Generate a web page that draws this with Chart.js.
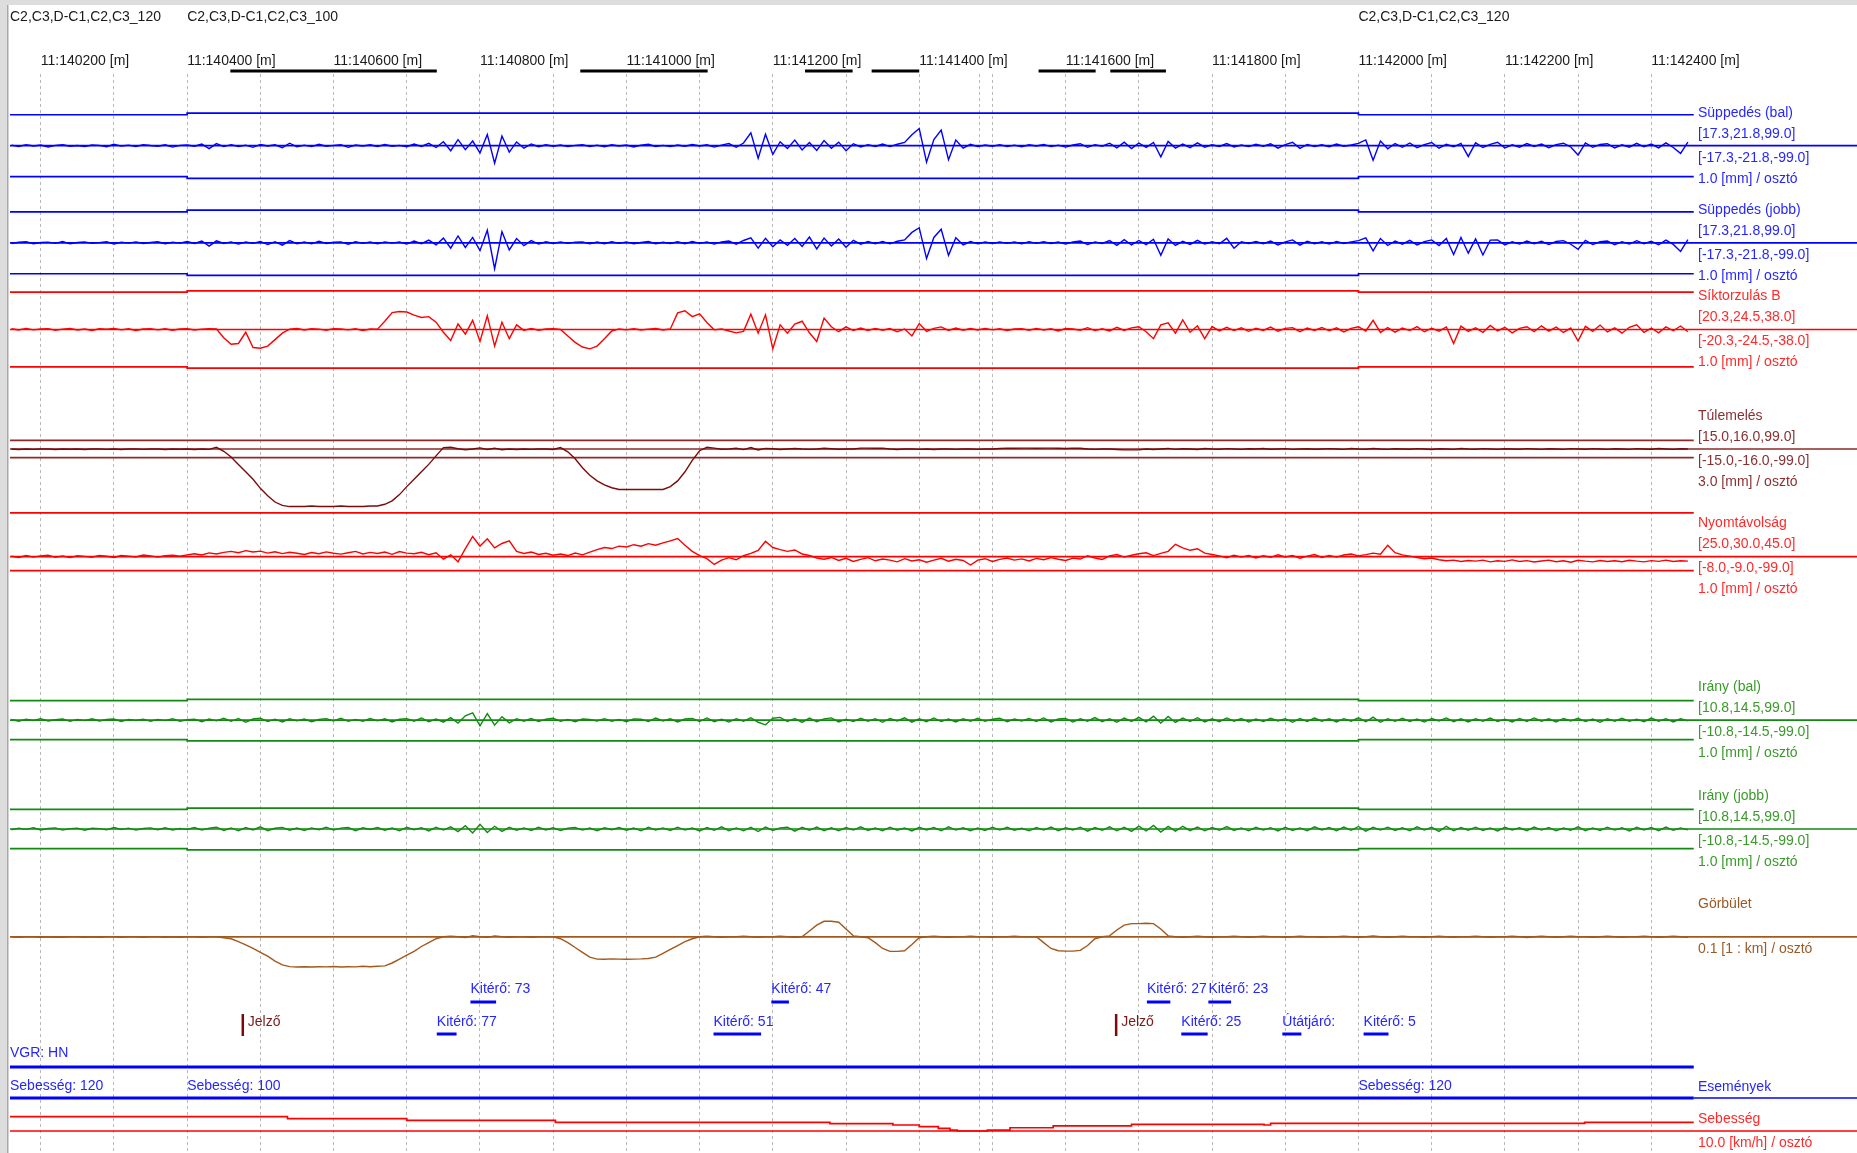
<!DOCTYPE html>
<html>
<head>
<meta charset="utf-8">
<script src="https://cdn.jsdelivr.net/npm/chart.js@4.4.1/dist/chart.umd.min.js"></script>
<style>
  html, body { margin: 0; padding: 0; background: #fff; }
  canvas { display: block; }
</style>
</head>
<body>
<canvas id="strip" width="1857" height="1153"></canvas>
<script>
// Track geometry strip chart, section 11:140158 - 11:142458 [m]
// Traces every 10 m.

const KM_START = 140160
const KM_STEP  = 10

const supBal = [
   0.3, -0.4,  0.6, -0.2,  0.4, -0.7,  0.2,  0.5, -0.3,  0.1,
  -0.5,  0.4,  0.2, -0.6,  0.8, -0.2,  0.3, -0.4,  0.6,  0.1,
  -0.3,  0.5, -0.8,  0.2,  0.4, -0.3,  0.9, -1.6,  1.2, -0.5,
   0.6, -0.4,  0.3, -0.9,  0.7, -0.2,  0.5, -1.1,  1.4, -0.6,
   0.3, -0.5,  0.8, -0.3,  0.2,  0.6, -0.9,  0.4, -0.2,  0.5,
  -0.4,  0.7, -0.3,  0.2, -0.6,  0.9, -0.4,  1.3, -1.0,  2.2,
  -2.8,  3.4, -2.2,  2.6, -4.0,  6.2, -9.8,  5.4, -3.6,  2.1,
  -1.4,  1.0, -0.6,  0.5, -0.3,  0.4, -0.5,  0.2,  0.6, -0.4,
   0.3, -0.6,  0.5, -0.2,  0.4, -0.7,  0.3,  0.8, -0.4,  0.2,
  -0.5,  0.4, -0.3,  0.7, -0.2,  0.5, -0.8,  0.3,  1.2, -0.9,
   1.5,  7.2, -7.0,  6.4, -4.8,  2.2, -1.6,  3.1, -2.4,  1.8,
  -2.6,  2.9, -1.4,  2.0, -2.8,  1.1, -0.7,  0.6, -0.4,  0.9,
  -0.5,  0.8,  1.8,  6.1,  9.6, -9.2,  3.4,  8.7, -7.8,  3.2,
  -1.4,  0.8, -0.5,  0.4, -0.3,  0.6, -0.4,  0.3, -0.6,  0.5,
  -0.2,  0.7, -0.5,  0.3, -0.8,  0.4,  1.1, -0.9,  0.6, -0.3,
   1.4, -1.2,  2.0, -1.6,  1.5, -0.9,  1.8, -6.2,  2.4, -1.3,
   0.9, -1.1,  1.6, -0.8,  0.5, -0.4,  1.2, -0.7,  0.4, -0.5,
   0.8, -0.3,  1.1, -1.4,  0.6,  1.9, -1.5,  0.7, -0.4,  0.5,
  -0.6,  0.9, -0.3,  0.4,  1.3,  3.2, -8.1,  2.6, -1.7,  1.2,
  -0.9,  1.5, -1.1,  0.6,  1.8, -1.4,  0.8, -0.6,  1.3, -6.0,
   1.6, -1.0,  0.7,  1.9, -1.3,  0.5, -0.8,  1.2, -0.4,  0.9,
  -1.1,  0.6,  1.4, -0.7, -5.2,  1.5, -0.9,  0.7,  1.1, -1.2,
   0.5, -0.8,  1.3, -0.6,  0.9, -1.2,  1.6, -1.0, -4.3,  2.0
]

const supJobb = [
  -0.4,  0.3,  0.6, -0.5,  0.2,  0.4, -0.3,  0.7, -0.6,  0.2,
   0.5, -0.3,  0.1,  0.6, -0.7,  0.3, -0.2,  0.5, -0.4,  0.2,
   0.6, -0.5,  0.3, -0.2,  0.7, -0.4,  1.0, -1.8,  1.1, -0.4,
   0.5, -0.7,  0.4, -0.3,  0.8, -1.0,  0.6, -1.3,  1.2, -0.5,
   0.4, -0.6,  0.9, -0.4,  0.3,  0.5, -0.8,  0.6, -0.3,  0.4,
  -0.6,  0.5, -0.2,  0.4, -0.7,  1.0, -0.5,  1.5, -1.2,  2.6,
  -3.0,  3.8, -2.6,  3.0, -4.4,  7.0,-14.5,  6.2, -4.0,  2.4,
  -1.6,  1.2, -0.7,  0.6, -0.4,  0.5, -0.3,  0.4,  0.5, -0.6,
   0.4, -0.5,  0.6, -0.3,  0.5, -0.6,  0.2,  0.7, -0.5,  0.3,
  -0.4,  0.6, -0.5,  0.8, -0.3,  0.4, -0.7,  0.5,  1.0, -0.8,
   1.3,  2.8, -3.0,  2.5, -2.2,  1.6, -1.4,  2.4, -2.0,  3.2,
  -3.4,  2.6, -1.8,  2.1, -2.5,  1.4, -0.8,  0.7, -0.5,  0.8,
  -0.6,  0.9,  1.6,  5.8,  8.4, -8.8,  3.0,  7.6, -7.0,  2.8,
  -1.2,  0.7, -0.6,  0.5, -0.4,  0.5, -0.3,  0.4, -0.5,  0.6,
  -0.3,  0.6, -0.4,  0.4, -0.7,  0.5,  1.0, -1.0,  0.5, -0.4,
   1.2, -1.4,  1.8, -1.2,  1.3, -1.0,  2.0, -7.0,  2.2, -1.5,
   0.8, -0.9,  1.4, -0.7,  0.6, -0.5,  2.5, -3.0,  0.6, -0.4,
   0.7, -0.5,  1.0, -1.2,  0.5,  1.6, -1.3,  0.8, -0.5,  0.6,
  -0.7,  0.8, -0.4,  0.5,  1.2,  2.8, -4.5,  2.4, -1.5,  1.0,
  -0.8,  1.4, -1.2,  0.7,  1.6, -1.5,  2.4, -6.5,  3.0, -5.8,
   2.2, -6.8,  1.5,  1.6, -1.2,  0.6, -0.7,  1.0, -0.5,  0.8,
  -1.0,  0.7,  1.2, -0.8, -3.6,  1.4, -1.0,  0.6,  1.0, -1.1,
   0.6, -0.7,  1.2, -0.5,  0.8, -1.1,  1.5, -0.9, -4.8,  1.8
]

const sikB = [
   0.4, -0.3,  0.6, -0.2,  0.3,  0.5, -0.4,  0.2,  0.6, -0.3,
   0.3, -0.5,  0.4,  0.1,  0.6, -0.2,  0.4, -0.5,  0.3,  0.5,
  -0.2,  0.4, -0.4,  0.3,  0.5, -0.3,  0.2,  0.4,  0.3, -4.5,
  -8.0, -7.6, -1.5, -9.8,-10.2, -9.0, -5.5, -2.0,  0.2,  0.5,
  -0.3,  0.4,  0.2, -0.4,  0.5,  0.3, -0.2,  0.4, -0.6,  0.3,
   0.2,  4.5,  9.2,  9.8,  9.5,  7.8,  6.5,  7.0,  4.0, -1.5,
  -6.0,  3.0, -2.5,  5.0, -6.5,  7.5, -9.0,  4.0, -5.0,  2.5,
  -0.5,  0.6, -0.4,  0.3,  0.5,  0.0, -3.5, -7.0, -9.5,-10.5,
  -9.0, -5.0, -0.8,  0.3, -0.2,  0.4, -0.3,  0.2,  0.5, -0.3,
   0.3,  9.0, 10.2,  7.0,  8.5,  3.8, -0.2,  0.3, -0.8, -1.8,
  -1.0,  8.3, -2.0,  8.0,-10.5,  2.5, -2.0,  3.0,  4.5, -1.8,
  -6.5,  6.2,  1.5, -1.2,  1.4, -0.6,  0.8, -0.5,  0.6, -0.4,
   0.5, -1.2,  0.3, -3.5,  3.2, -1.0,  0.6,  1.4, -0.5,  0.8,
  -0.4,  0.5, -0.3,  0.6, -0.2,  0.4, -0.5,  0.3,  0.5, -0.4,
   0.6, -0.3,  0.4, -0.8,  0.5,  0.3, -0.4,  1.0, -0.6,  0.4,
  -0.8,  1.2, -0.5,  0.9,  1.5, -1.2, -5.0,  2.5,  3.6, -2.0,
   5.2, -1.5,  2.0, -5.0,  1.6, -0.8,  1.2, -0.6,  0.9, -1.0,
   0.7, -0.5,  1.3, -0.9,  0.6,  1.0, -1.2,  0.8, -0.5,  1.1,
  -0.7,  0.9, -1.3,  0.6,  1.5, -0.8,  5.0, -1.6,  1.0, -1.4,
   0.8, -0.6,  1.6, -1.2,  0.7, -0.9,  1.4, -7.6,  1.8, -1.0,
   0.9, -1.5,  2.2, -0.8,  1.2, -1.8,  0.6,  1.5, -1.1,  2.0,
  -0.9,  1.3, -1.6,  0.8, -6.3,  1.7, -1.0,  2.4, -1.3,  0.9,
  -2.0,  1.2,  2.6, -1.5,  0.8, -1.8,  1.4, -0.7,  1.9, -1.2
]

const tulemeles = [
   0.0, -0.9,  0.0, -0.6,  0.0,  0.0, -0.9,  0.0, -0.5,  0.0,
  -0.8,  0.0,  0.0, -0.6,  0.0, -0.9,  0.0,  0.0, -0.7,  0.0,
   0.0, -0.8,  0.0, -0.5,  0.0, -0.9,  0.0, -0.6,  3.0, -4.0,
   -14,  -27,  -40,  -53,  -69,  -82,  -93,  -99, -101, -101,
  -101, -100, -101, -101, -101, -100, -101, -101, -101, -100,
  -100,  -97,  -91,  -80,  -66,  -53,  -40,  -27,  -12,  2.5,
   3.0,  0.5, -1.5,  0.0,  2.0, -0.8,  1.5, -1.2,  0.0, -0.8,
   0.0, -0.6,  0.0,  0.0, -0.8,  2.5,   -5,  -17,  -33,  -46,
   -56,  -63,  -68,  -71,  -71,  -71,  -71,  -71,  -71,  -71,
   -66,  -56,  -40,  -20,   -3,  3.0,  1.5, -0.5,  0.0,  1.2,
  -1.0,  2.5, -1.8,  1.0,  0.5, -0.8,  0.0,  1.0,  0.0, -0.6,
   0.0,  1.2,  0.5, -0.5,  0.0,  0.0,  1.5,  1.5,  1.4,  1.5,
   0.0, -0.8,  0.0,  0.0, -0.6,  0.0, -0.8,  0.0,  0.0, -0.7,
   0.0,  0.0, -0.6,  0.0,  0.0,  0.8,  1.5,  1.4,  1.5,  1.5,
   1.4,  1.5,  1.5,  1.2,  0.8,  1.5,  1.4,  0.0, -0.6,  0.0,
   0.0, -0.8, -1.5, -1.6, -1.5,  0.0, -0.8,  0.0,  1.0, -0.6,
   0.5,  0.0, -0.8,  0.8,  0.0, -0.5,  0.6,  0.0, -0.6,  0.5,
   0.0,  0.8, -0.5,  0.0,  0.6, -0.6,  0.0,  0.5, -0.5,  0.0,
   0.6,  0.0, -0.6,  0.8,  0.0, -0.4,  1.0,  0.0, -0.6,  0.5,
   0.0, -0.5,  0.6,  0.0, -0.8,  0.5,  0.0, -0.6,  0.8,  0.0,
  -0.5,  0.6,  0.0, -0.7,  0.5,  0.0, -0.5,  0.7,  0.0, -0.6,
   0.5,  0.0, -0.6,  0.6,  0.0, -0.5,  0.7,  0.0, -0.6,  0.5,
   0.0, -0.6,  0.6,  0.0, -0.5,  0.8,  0.0, -0.6,  0.5,  0.0
]

const nyomtav = [
   0.2, -0.5,  0.6, -0.3,  0.4,  0.8, -0.4,  0.3, -0.6,  0.5,
   0.1, -0.4,  0.7,  0.2, -0.5,  0.6,  0.3, -0.2,  0.9,  0.4,
  -0.3,  0.5,  0.8,  0.2,  1.0,  1.6,  0.9,  2.1,  1.5,  2.4,
   3.0,  2.2,  3.4,  2.6,  3.1,  2.0,  2.8,  1.7,  2.5,  1.9,
   1.2,  2.3,  1.6,  2.7,  1.9,  1.4,  2.2,  3.0,  1.5,  2.4,
   1.8,  2.6,  1.3,  2.9,  2.0,  1.6,  2.5,  1.1,  2.2, -1.5,
   1.0, -3.0,  4.5, 11.5,  6.0, 10.2,  5.0,  7.5,  9.0,  3.0,
   1.8,  2.6,  1.2,  1.9,  0.8,  1.5,  0.6,  2.0,  1.0,  2.6,
   4.0,  5.2,  4.6,  6.0,  5.5,  6.8,  5.9,  7.4,  6.5,  7.8,
   9.0, 10.3,  6.5,  3.0,  0.5, -1.2, -4.5, -2.0, -0.6, -1.8,
   0.5,  1.8,  3.5,  8.8,  5.2,  4.0,  3.0,  3.8,  1.5,  0.6,
  -0.8, -1.5, -0.5, -2.2, -1.0, -2.8, -1.6, -0.6, -2.4, -1.4,
  -2.0, -3.0, -1.2, -2.5, -1.8, -3.2, -2.0, -1.0, -2.6, -1.5,
  -2.2, -4.8, -2.0, -1.2, -2.8, -1.6, -0.8, -2.0, -1.3, -2.5,
  -1.0, -1.8, -0.6, -1.5, -2.2, -0.9, -1.4,  0.5, -0.8, -1.6,
   0.4,  1.2, -0.3,  0.8,  1.6,  2.2,  0.6,  1.8,  3.0,  7.0,
   5.0,  3.6,  4.5,  2.0,  1.2,  0.4, -0.6,  0.8, -0.3,  0.6,
  -0.8,  0.5, -0.4,  1.0, -0.2,  0.6, -0.9,  0.3,  1.2, -0.5,
   0.7, -0.3,  0.9,  1.5,  0.4,  1.1,  2.0,  1.4,  6.5,  2.2,
   1.0,  0.3, -0.5, -1.2, -0.8, -1.8, -2.4, -2.0, -2.8, -2.2,
  -2.6, -2.0, -3.0, -2.4, -2.7, -1.9, -2.8, -2.3, -3.1, -2.5,
  -2.0, -2.9, -2.4, -3.2, -2.1, -2.6, -3.0, -2.2, -2.8, -2.4,
  -2.9, -2.1, -2.6, -3.0, -2.3, -2.7, -2.0, -2.8, -2.4, -2.6
]

const iranyBal = [
   0.3, -0.6,  0.5, -0.2,  0.8, -0.5,  0.2,  0.6, -0.7,  0.4,
  -0.3,  0.7, -0.5,  0.3,  0.6, -0.8,  0.4, -0.2,  0.5, -0.6,
   0.4, -0.3,  0.8, -0.6,  0.2,  0.5, -0.9,  0.6, -0.4,  1.0,
  -0.7,  0.9, -1.2,  0.6,  1.1, -0.8,  0.5, -1.0,  0.7, -0.4,
   0.6, -0.9,  0.3,  0.8, -0.5,  1.0, -0.7,  0.4, -0.6,  0.9,
  -0.4,  0.7, -1.0,  0.5,  0.8, -0.6,  1.2, -0.9,  0.6, -1.1,
   1.4, -1.6,  2.4,  4.0, -3.2,  3.6, -2.8,  1.9, -1.5,  0.8,
  -0.6,  0.9, -0.8,  0.5,  1.0, -0.7,  0.4, -0.9,  0.6,  0.3,
  -0.5,  0.8, -0.6,  0.4, -0.9,  0.7,  0.5, -0.8,  1.1, -0.5,
   0.7, -1.0,  0.6,  0.9, -0.7,  1.2, -0.9,  0.5, -1.1,  0.8,
  -0.6,  1.3, -1.2, -2.6,  1.0,  1.5, -0.8,  0.9, -1.3,  1.1,
  -0.9,  0.7,  1.2, -1.0,  0.5, -0.8,  1.0, -0.6,  0.8, -1.2,
   0.9, -0.5,  1.3, -1.1,  0.7, -0.9,  1.2, -0.8,  0.6, -1.0,
   0.8, -0.6,  1.0, -0.7,  0.5,  1.1, -0.9,  0.6, -0.5,  0.9,
  -0.7,  1.2, -1.0,  0.6,  0.9, -1.1,  0.7, -0.6,  1.4, -0.9,
   0.8, -1.2,  1.1, -0.7,  1.5, -1.0,  2.2, -1.6,  2.0, -1.3,
   1.1, -0.8,  1.3, -1.0,  0.7, -0.9,  1.2, -0.6,  0.9, -1.1,
   0.6, -0.8,  1.0, -0.5,  0.8, -1.2,  0.9, -0.7,  1.1, -0.6,
   0.7, -1.0,  0.8, -0.6,  1.3, -0.9,  1.6, -1.2,  0.8, -0.7,
   1.0, -0.8,  0.6, -1.1,  0.9, -0.5,  1.2, -0.9,  0.7, -1.0,
   0.8, -0.6,  1.1, -0.8,  0.5, -1.0,  0.9, -0.7,  1.2, -0.6,
   0.7, -1.1,  0.9, -0.5,  1.0, -0.8,  0.6, -1.2,  0.8, -0.6,
   1.0, -0.7,  0.5, -0.9,  1.1, -0.6,  0.8, -1.0,  0.7, -0.4
]

const iranyJobb = [
  -0.4,  0.5, -0.2,  0.7, -0.5,  0.3,  0.6, -0.6,  0.2,  0.5,
  -0.7,  0.4,  0.2, -0.5,  0.8, -0.3,  0.5, -0.6,  0.3,  0.6,
  -0.4,  0.7, -0.5,  0.3, -0.2,  0.8, -0.6,  0.4,  1.0, -0.8,
   0.6, -1.0,  0.8, -0.5,  1.2, -0.9,  0.4,  0.9, -0.7,  0.5,
  -0.8,  0.6, -0.4,  1.0, -0.6,  0.5,  0.8, -0.9,  0.7, -0.3,
   0.8, -0.7,  0.5, -1.0,  0.9, -0.4,  0.7, -1.1,  1.0, -0.6,
   1.2, -1.4,  1.8, -2.2,  2.6, -1.9,  1.5, -1.3,  0.9, -0.7,
   0.6, -0.8,  0.9, -0.5,  0.7, -0.9,  0.4,  0.8, -0.6,  0.5,
  -0.9,  0.7, -0.4,  0.8, -0.7,  0.5, -1.0,  0.9, -0.5,  0.6,
  -0.8,  1.0, -0.6,  0.5, -1.1,  0.8, -0.7,  1.2, -0.9,  0.6,
  -1.0,  0.9, -1.4,  1.1, -0.8,  0.6,  1.0, -1.2,  0.9, -0.7,
   1.1, -0.9,  0.7, -1.0,  0.8, -0.6,  1.2, -0.8,  0.5, -0.9,
   1.0, -0.7,  0.6, -1.1,  0.9, -0.5,  0.8, -1.0,  1.2, -0.6,
   0.7, -0.9,  0.5, -0.8,  1.0, -0.6,  0.9, -0.7,  0.4, -1.0,
   0.8, -0.6,  1.1, -0.9,  0.7, -0.5,  1.0, -1.2,  0.8, -0.7,
   1.2, -1.0,  0.9, -1.3,  1.6, -1.1,  2.0, -1.7,  1.4, -1.2,
   1.5, -0.9,  1.1, -1.0,  0.8, -0.7,  1.3, -0.8,  0.6, -1.0,
   0.9, -0.6,  0.7, -1.1,  1.0, -0.8,  0.6, -0.9,  1.2, -0.5,
   0.8, -0.9,  1.1, -0.7,  1.4, -1.2,  0.9, -0.6,  1.0, -0.8,
   0.7, -1.0,  1.2, -0.6,  0.9, -1.3,  1.5, -1.0,  0.8, -0.7,
   1.0, -0.8,  0.6, -1.1,  0.9, -0.5,  0.7, -0.9,  1.1, -0.6,
   0.8, -1.0,  0.5, -0.7,  1.2, -0.9,  0.6, -0.8,  1.0, -0.6,
   0.7, -1.1,  0.9, -0.5,  0.8, -0.9,  1.1, -0.7,  0.6, -0.5
]

const gorbulet = [
   0.00, -0.03,  0.00,  0.00, -0.03,  0.00, -0.03, -0.03,  0.00,  0.00,
  -0.03,  0.00, -0.03,  0.00,  0.00, -0.03,  0.00,  0.00, -0.03,  0.00,
   0.00, -0.03,  0.00, -0.03,  0.00,  0.00, -0.03,  0.00,  0.00, -0.05,
  -0.10, -0.25, -0.42, -0.60, -0.80, -1.00, -1.25, -1.45, -1.54, -1.56,
  -1.54, -1.56, -1.54, -1.55, -1.53, -1.56, -1.54, -1.55, -1.52, -1.54,
  -1.52, -1.50, -1.35, -1.15, -0.95, -0.75, -0.50, -0.30, -0.10,  0.00,
   0.03,  0.00, -0.04,  0.05,  0.00, -0.03,  0.04,  0.00, -0.03,  0.00,
   0.00, -0.03,  0.00,  0.00,  0.00, -0.10, -0.30, -0.55, -0.80, -1.05,
  -1.15, -1.16, -1.14, -1.15, -1.16, -1.15, -1.14, -1.12, -1.05, -0.85,
  -0.65, -0.45, -0.25, -0.10,  0.00,  0.03,  0.00, -0.03,  0.00,  0.00,
   0.03,  0.00, -0.03,  0.00,  0.00,  0.03,  0.00, -0.03,  0.00,  0.30,
   0.60,  0.80,  0.80,  0.75,  0.40,  0.05,  0.00, -0.05, -0.30, -0.60,
  -0.75, -0.75, -0.72, -0.40, -0.05,  0.00,  0.03,  0.00, -0.03,  0.00,
   0.00,  0.03,  0.00,  0.00, -0.03,  0.00,  0.00,  0.03,  0.00,  0.00,
   0.00, -0.30, -0.60, -0.72, -0.74, -0.74, -0.70, -0.45, -0.10,  0.00,
   0.05,  0.35,  0.60,  0.68,  0.68,  0.70,  0.68,  0.40,  0.05,  0.00,
  -0.03,  0.00,  0.03,  0.00, -0.03,  0.00,  0.00,  0.03,  0.00, -0.03,
   0.00,  0.03,  0.00,  0.00, -0.03,  0.00,  0.03,  0.00,  0.00, -0.03,
   0.00,  0.00,  0.03,  0.00, -0.03,  0.00,  0.04,  0.00, -0.03,  0.00,
   0.03,  0.00,  0.00, -0.03,  0.00,  0.03,  0.00, -0.03,  0.00,  0.00,
   0.03,  0.00, -0.03,  0.00,  0.00,  0.03,  0.00, -0.04,  0.00,  0.03,
   0.00, -0.03,  0.00,  0.03,  0.00,  0.00, -0.03,  0.00,  0.03,  0.00,
  -0.03,  0.00,  0.00,  0.03,  0.00, -0.03,  0.00,  0.03,  0.00, -0.03
]

// section zones (speed class changes at 11:140400 and 11:142000)
const VIEW_FROM = 140158
const VIEW_TO   = 142681
const DATA_END  = 142458

const zoneStart     = [140158, 140400, 142000]
const zoneHeader    = ['C2,C3,D-C1,C2,C3_120', 'C2,C3,D-C1,C2,C3_100', 'C2,C3,D-C1,C2,C3_120']
const zoneSpeedText = ['Sebesség: 120', 'Sebesség: 100', 'Sebesség: 120']

const supLimit   = [17.3, 18.2, 17.3]
const sikLimit   = [20.3, 21.0, 20.3]
const tulLimit   = [15.0, 15.0, 15.0]
const nyomUpper  = [25.0, 25.0, 25.0]
const nyomLower  = [-8.0, -8.0, -8.0]
const iranyLimit = [10.8, 11.5, 10.8]

// curve extents (black bars under the km labels)
const curveFrom = [140459, 140937, 141244, 141335, 141563, 141661]
const curveTo   = [140741, 141111, 141309, 141400, 141641, 141737]

// events
const ev1Text  = ['Kitérő: 73', 'Kitérő: 47', 'Kitérő: 27', 'Kitérő: 23']
const ev1From  = [140787, 141198, 141711, 141795]
const ev1To    = [140822, 141222, 141743, 141826]
const ev2Text  = ['Kitérő: 77', 'Kitérő: 51', 'Kitérő: 25', 'Útátjáró:', 'Kitérő: 5']
const ev2From  = [140741, 141119, 141758, 141896, 142007]
const ev2To    = [140768, 141184, 141794, 141922, 142041]
const signalAt = [140476, 141669]

// measured speed, step changes [m] and [km/h]
const speedAt  = [140158, 140537, 140700, 140903, 141278, 141364, 141400, 141426, 141442, 141452, 141493, 141524, 141583, 141690, 141871, 141880, 142309, 142458]
const speedVal = [   119,    103,     89,     72,     61,     50,     36,     22,      8,      0,      8,     27,     42,     56,     50,     64,     72,     72]

const gridFrom  = 140200
const gridTo    = 142400
const gridStep  = 100
const labelStep = 200
const extraGrid = [141482]

// --- layout ---

const W         = 1857
const H         = 1153
const AREA_TOP  = 74
const AREA_LEFT = 10
const LABEL_X   = 1698
const FAMILY    = '"Liberation Sans", Arial, sans-serif'
const FONT_PX   = 14

const BLUE    = '#0000ff'
const BLUE_T  = '#2626ff'
const RED     = '#ff0000'
const RED_T   = '#ff2a2a'
const GREEN   = '#118a11'
const GREEN_T = '#3a9a2a'
const MAROON  = '#7d0a0a'
const BROWN   = '#a3581c'

// yc: zero line [px], k: px per unit
const channels = [
  { id: 'supBal',   values: supBal,    yc: 145.7, k: 1.79, line: BLUE,  trace: BLUE,  text: BLUE_T,
    upper: supLimit, lower: supLimit.map(v => -v),
    name: 'Süppedés (bal)',  hi: '[17.3,21.8,99.0]', lo: '[-17.3,-21.8,-99.0]', unit: '1.0 [mm] / osztó', unitDy: 33 },
  { id: 'supJobb',  values: supJobb,   yc: 242.8, k: 1.79, line: BLUE,  trace: BLUE,  text: BLUE_T,
    upper: supLimit, lower: supLimit.map(v => -v),
    name: 'Süppedés (jobb)', hi: '[17.3,21.8,99.0]', lo: '[-17.3,-21.8,-99.0]', unit: '1.0 [mm] / osztó', unitDy: 33 },
  { id: 'sikB',     values: sikB,      yc: 329.5, k: 1.84, line: RED,   trace: RED,   text: RED_T,
    upper: sikLimit, lower: sikLimit.map(v => -v),
    name: 'Síktorzulás B',   hi: '[20.3,24.5,38.0]', lo: '[-20.3,-24.5,-38.0]', unit: '1.0 [mm] / osztó', unitDy: 33 },
  { id: 'tul',      values: tulemeles, yc: 449.0, k: 0.57, line: '#8e2a2a', trace: MAROON, text: '#8a3030',
    upper: tulLimit, lower: tulLimit.map(v => -v),
    name: 'Túlemelés',       hi: '[15.0,16.0,99.0]', lo: '[-15.0,-16.0,-99.0]', unit: '3.0 [mm] / osztó', unitDy: 33 },
  { id: 'nyom',     values: nyomtav,   yc: 556.6, k: 1.75, line: RED,   trace: RED,   text: RED_T,
    upper: nyomUpper, lower: nyomLower,
    name: 'Nyomtávolság',    hi: '[25.0,30.0,45.0]', lo: '[-8.0,-9.0,-99.0]', unit: '1.0 [mm] / osztó', unitDy: 33 },
  { id: 'iranyBal', values: iranyBal,  yc: 720.1, k: 1.81, line: GREEN, trace: GREEN, text: GREEN_T,
    upper: iranyLimit, lower: iranyLimit.map(v => -v),
    name: 'Irány (bal)',     hi: '[10.8,14.5,99.0]', lo: '[-10.8,-14.5,-99.0]', unit: '1.0 [mm] / osztó', unitDy: 33 },
  { id: 'iranyJobb',values: iranyJobb, yc: 829.0, k: 1.81, line: GREEN, trace: GREEN, text: GREEN_T,
    upper: iranyLimit, lower: iranyLimit.map(v => -v),
    name: 'Irány (jobb)',    hi: '[10.8,14.5,99.0]', lo: '[-10.8,-14.5,-99.0]', unit: '1.0 [mm] / osztó', unitDy: 33 },
  { id: 'gorb',     values: gorbulet,  yc: 936.8, k: 19.4, line: BROWN, trace: BROWN, text: '#9a5a26',
    name: 'Görbület', unit: '0.1 [1 : km] / osztó', unitDy: 12 }
]

const SPEED_YC = 1131
const SPEED_K  = 0.12

// lane positions of the event strip [px]
const LANE = {
  header: 17, curveBar: 71,
  row1Text: 989, row1Bar: 1002, row2Text: 1022, row2Bar: 1034,
  signalTop: 1014, signalBottom: 1036,
  vgrText: 1053, vgrLine: 1067, evText: 1086, evLine: 1098
}

// --- datasets ---

const series   = arr => arr.map((v, i) => ({ x: KM_START + i * KM_STEP, y: v }))
const zoned    = vals => zoneStart.map((x, i) => ({ x, y: vals[i] })).concat([{ x: DATA_END, y: vals[vals.length - 1] }])
const flat     = (y, a, b) => [{ x: a, y }, { x: b, y }]
const segments = (from, to, y) => from.flatMap((a, i) => [{ x: a, y }, { x: to[i], y }, { x: to[i], y: null }])

function line(data, axis, color, width, extra)
{
  return Object.assign({
    data, yAxisID: axis, borderColor: color, borderWidth: width,
    pointRadius: 0, tension: 0, fill: false, order: 1
  }, extra || {})
}

const datasets = []
const yScales  = {}

channels.forEach(ch => {
  yScales[ch.id] = { type: 'linear', display: false, min: -(H - ch.yc) / ch.k, max: (ch.yc - AREA_TOP) / ch.k }

  if( ch.upper ) datasets.push(line(zoned(ch.upper), ch.id, ch.line, 1.7, { stepped: true }))
  if( ch.lower ) datasets.push(line(zoned(ch.lower), ch.id, ch.line, 1.7, { stepped: true }))
  datasets.push(line(flat(0, VIEW_FROM, VIEW_TO), ch.id, ch.line, 1.7))
  datasets.push(line(series(ch.values), ch.id, ch.trace, 1.4, { order: 0 }))
})

yScales.speed = { type: 'linear', display: false, min: -(H - SPEED_YC) / SPEED_K, max: (SPEED_YC - AREA_TOP) / SPEED_K }
yScales.lane  = { type: 'linear', display: false, min: AREA_TOP, max: H, reverse: true }

datasets.push(line(flat(0, VIEW_FROM, VIEW_TO), 'speed', RED, 1.7))
datasets.push(line(speedAt.map((x, i) => ({ x, y: speedVal[i] })), 'speed', RED, 1.7, { stepped: true }))

datasets.push(line(flat(LANE.vgrLine, VIEW_FROM, DATA_END), 'lane', BLUE, 3.2))
datasets.push(line(flat(LANE.evLine,  VIEW_FROM, DATA_END), 'lane', BLUE, 3.2))
datasets.push(line(flat(LANE.evLine,  DATA_END,  VIEW_TO),  'lane', BLUE, 1.7))
datasets.push(line(segments(ev1From, ev1To, LANE.row1Bar), 'lane', BLUE, 3))
datasets.push(line(segments(ev2From, ev2To, LANE.row2Bar), 'lane', BLUE, 3))
datasets.push(line(signalAt.flatMap(m => [{ x: m, y: LANE.signalTop }, { x: m, y: LANE.signalBottom }, { x: m, y: null }]), 'lane', MAROON, 2.5))
datasets.push(line(segments(curveFrom, curveTo, LANE.curveBar), 'lane', '#000000', 3, { clip: false }))

// --- grid ticks ---

const gridTicks = []
for( let m = gridFrom; m <= gridTo; m += gridStep ) gridTicks.push(m)
extraGrid.forEach(m => gridTicks.push(m))
gridTicks.sort((a, b) => a - b)

// --- texts drawn around the plot ---

const decor = {
  id: 'decor',

  beforeDraw(chart)
  {
    const c = chart.ctx
    c.save()
    c.fillStyle = '#ffffff'
    c.fillRect(0, 0, W, H)
    c.fillStyle = '#dddddd'
    c.fillRect(0, 0, W, 5)
    c.fillRect(0, 0, 7, H)
    c.fillStyle = '#a8a8a8'
    c.fillRect(7, 5, 1.5, H)
    c.restore()
  },

  afterDraw(chart)
  {
    const c   = chart.ctx
    const px  = m => chart.scales.x.getPixelForValue(m)
    const put = (t, x, y, col) => { c.fillStyle = col; c.fillText(t, x, y) }

    c.save()
    c.font         = `${FONT_PX}px ${FAMILY}`
    c.textBaseline = 'middle'
    c.textAlign    = 'left'

    zoneHeader.forEach((t, i)    => put(t, px(zoneStart[i]), LANE.header, '#1a1a1a'))
    zoneSpeedText.forEach((t, i) => put(t, px(zoneStart[i]), LANE.evText, BLUE_T))
    put('VGR: HN', px(VIEW_FROM), LANE.vgrText, BLUE_T)

    ev1Text.forEach((t, i) => put(t, px(ev1From[i]), LANE.row1Text, BLUE_T))
    ev2Text.forEach((t, i) => put(t, px(ev2From[i]), LANE.row2Text, BLUE_T))
    signalAt.forEach(m => put('Jelző', px(m) + 5, LANE.row2Text, '#7a1a1a'))

    channels.forEach(ch => {
      const y = chart.scales[ch.id].getPixelForValue(0)
      if( ch.name ) put(ch.name, LABEL_X, y - 33, ch.text)
      if( ch.hi )   put(ch.hi,   LABEL_X, y - 12, ch.text)
      if( ch.lo )   put(ch.lo,   LABEL_X, y + 12, ch.text)
      if( ch.unit ) put(ch.unit, LABEL_X, y + ch.unitDy, ch.text)
    })

    put('Események', LABEL_X, LANE.evLine - 11, BLUE_T)
    const sy = chart.scales.speed.getPixelForValue(0)
    put('Sebesség', LABEL_X, sy - 12, RED_T)
    put('10.0 [km/h] / osztó', LABEL_X, sy + 12, RED_T)
    c.restore()
  }
}

new Chart(document.getElementById('strip'), {
  type: 'line',
  data: { datasets },
  plugins: [decor],
  options: {
    responsive:       false,
    animation:        false,
    devicePixelRatio: 1,
    layout: { padding: { top: AREA_TOP - 26, left: AREA_LEFT, right: 0, bottom: 0 } },
    plugins: {
      legend:  { display: false },
      tooltip: { enabled: false }
    },
    scales: Object.assign({
      x: {
        type:     'linear',
        position: 'top',
        min:      VIEW_FROM,
        max:      VIEW_TO,
        afterBuildTicks: scale => { scale.ticks = gridTicks.map(v => ({ value: v })) },
        afterFit:        scale => { scale.height = 26 },
        ticks: {
          autoSkip:    false,
          minRotation: 0,
          maxRotation: 0,
          align:       'start',
          padding:     4,
          color:       '#1a1a1a',
          font:        { family: FAMILY, size: FONT_PX },
          callback:    v => ((v - gridFrom) % labelStep === 0 && v >= gridFrom) ? `11:${v} [m]` : ''
        },
        grid:   { color: '#b9b9b9', lineWidth: 1, drawTicks: false },
        border: { display: false, dash: [3, 3] }
      }
    }, yScales)
  }
})
</script>
</body>
</html>
